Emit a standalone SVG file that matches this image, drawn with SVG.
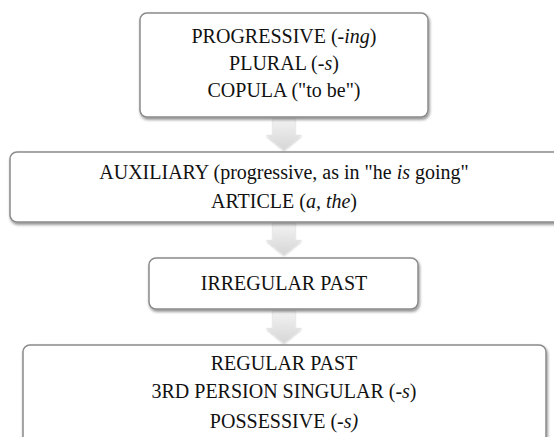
<svg xmlns="http://www.w3.org/2000/svg" width="554" height="437" viewBox="0 0 554 437">
<defs>
<filter id="sh" x="-5%" y="-10%" width="110%" height="130%">
<feGaussianBlur in="SourceAlpha" stdDeviation="1.5"/>
<feOffset dx="0.5" dy="2" result="b"/>
<feComponentTransfer><feFuncA type="linear" slope="0.45"/></feComponentTransfer>
<feMerge><feMergeNode/><feMergeNode in="SourceGraphic"/></feMerge>
</filter>
<linearGradient id="ag" x1="0" y1="0" x2="0" y2="1">
<stop offset="0" stop-color="#f4f4f4"/>
<stop offset="1" stop-color="#d6d6d6"/>
</linearGradient>
<filter id="ash" x="-30%" y="-30%" width="160%" height="160%">
<feGaussianBlur in="SourceAlpha" stdDeviation="1.2"/>
<feOffset dx="0" dy="1"/>
<feComponentTransfer><feFuncA type="linear" slope="0.25"/></feComponentTransfer>
<feMerge><feMergeNode/><feMergeNode in="SourceGraphic"/></feMerge>
</filter>
</defs>
<style>
.box{fill:#ffffff;stroke:#8a8a8a;stroke-width:1.5;filter:url(#sh)}
.arr{fill:url(#ag);stroke:none;filter:url(#ash)}
text{font-family:"Liberation Serif","Times New Roman",serif;font-size:20px;fill:#111;text-anchor:middle}
.i{font-style:italic}
</style>
<g id="connectors">
<path class="arr" d="M273,117 H295 V135 H302 L284,150 L266,135 H273 Z"/>
<path class="arr" d="M273,222 H295 V240 H302 L284,255 L266,240 H273 Z"/>
<path class="arr" d="M273,310 H295 V328 H302 L284,343 L266,328 H273 Z"/>
</g>
<g id="node1">
<rect class="box" x="140" y="13" width="288" height="104" rx="7"/>
<text x="284" y="43">PROGRESSIVE (-<tspan class="i">ing</tspan>)</text>
<text x="284" y="70">PLURAL (-<tspan class="i">s</tspan>)</text>
<text x="284" y="97">COPULA ("to be")</text>
</g>
<g id="node2">
<rect class="box" x="10" y="152" width="560" height="70" rx="7"/>
<text x="284" y="179">AUXILIARY (progressive, as in "he <tspan class="i">is</tspan> going"</text>
<text x="284" y="208">ARTICLE (<tspan class="i">a, the</tspan>)</text>
</g>
<g id="node3">
<rect class="box" x="149" y="258" width="269" height="51" rx="7"/>
<text x="284" y="290">IRREGULAR PAST</text>
</g>
<g id="node4">
<rect class="box" x="23" y="345" width="523" height="110" rx="7"/>
<text x="284" y="370">REGULAR PAST</text>
<text x="284" y="398">3RD PERSION SINGULAR (-<tspan class="i">s</tspan>)</text>
<text x="284" y="428">POSSESSIVE (-<tspan class="i">s)</tspan></text>
</g>
</svg>
